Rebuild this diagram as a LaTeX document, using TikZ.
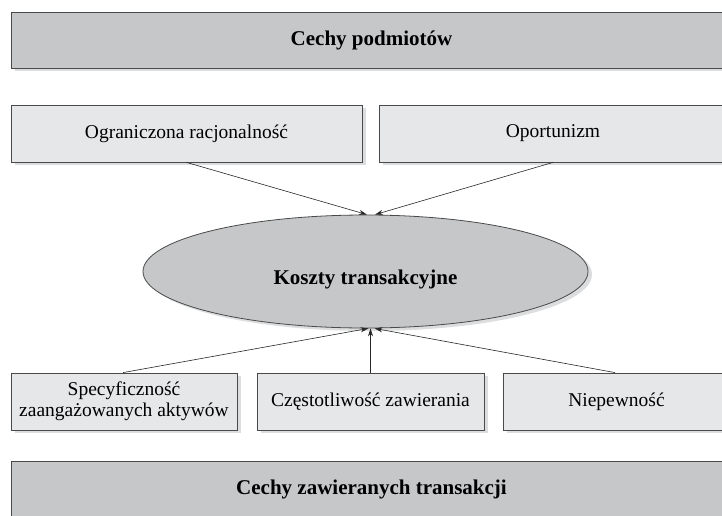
\documentclass[tikz,border=0pt]{standalone}
\usepackage{fontspec}
\setmainfont{Liberation Serif}
\usepackage{tikz}
\usetikzlibrary{
  arrows.meta,
  shapes.geometric,
  shadows,
}
\definecolor{headgray}{HTML}{C6C7C9}
\definecolor{boxgray}{HTML}{E6E7E8}
\definecolor{framegray}{HTML}{4A4A4A}
\definecolor{shadegray}{HTML}{DCDDDE}

\begin{document}
\begin{tikzpicture}[
    x=1pt, y=-1pt,
    shade/.style={drop shadow={shadow xshift=4pt, shadow yshift=-3pt,
                  fill=shadegray, opacity=1}},
    group/.style={rectangle, draw=framegray, fill=headgray, line width=0.8pt,
                  minimum width=721pt, minimum height=56pt, inner sep=0pt,
                  font=\fontsize{21}{24}\selectfont\bfseries, shade},
    factor/.style={rectangle, draw=framegray, fill=boxgray, line width=0.8pt,
                   minimum height=57pt, inner sep=0pt, align=center,
                   font=\fontsize{19.5}{20.7}\selectfont, shade},
    cost/.style={ellipse, draw=framegray, fill=headgray, line width=0.8pt,
                 minimum width=445pt, minimum height=113pt, inner sep=0pt, shade},
    arr/.style={-{Stealth[length=8pt,width=5pt]}, line width=0.6pt, draw=black!85},
  ]
  \useasboundingbox (0,0) rectangle (722,516);

  \node[group] (podm) at (371.5,40) {Cechy podmiotów};
  \node[factor, minimum width=351pt] (racj) at (186.5,133.5) {Ograniczona racjonalność};
  \node[factor, minimum width=348pt] (oport) at (553,133.5) {Oportunizm};

  \node[cost, label={[yshift=-8pt, font=\fontsize{21}{24}\selectfont\bfseries]center:Koszty transakcyjne}]
    (koszty) at (365.5,271.5) {};

  \node[factor, minimum width=226pt] (spec) at (124,401.5) {Specyficzność\\zaangażowanych aktywów};
  \node[factor, minimum width=227pt] (czest) at (370.5,401.5) {Częstotliwość zawierania};
  \node[factor, minimum width=227pt] (niep) at (616.5,401.5) {Niepewność};
  \node[group] (trans) at (371.5,489.5) {Cechy zawieranych transakcji};

  \draw[arr] (racj.south) -- ([xshift=1.5pt]koszty.north);
  \draw[arr] (oport.south) -- ([xshift=9.5pt]koszty.north);
  \draw[arr] ([xshift=-1pt]spec.north) -- ([xshift=3pt]koszty.south);
  \draw[arr] (czest.north) -- (czest.north |- koszty.south);
  \draw[arr] ([xshift=-1.5pt]niep.north) -- ([xshift=9pt]koszty.south);
\end{tikzpicture}
\end{document}
